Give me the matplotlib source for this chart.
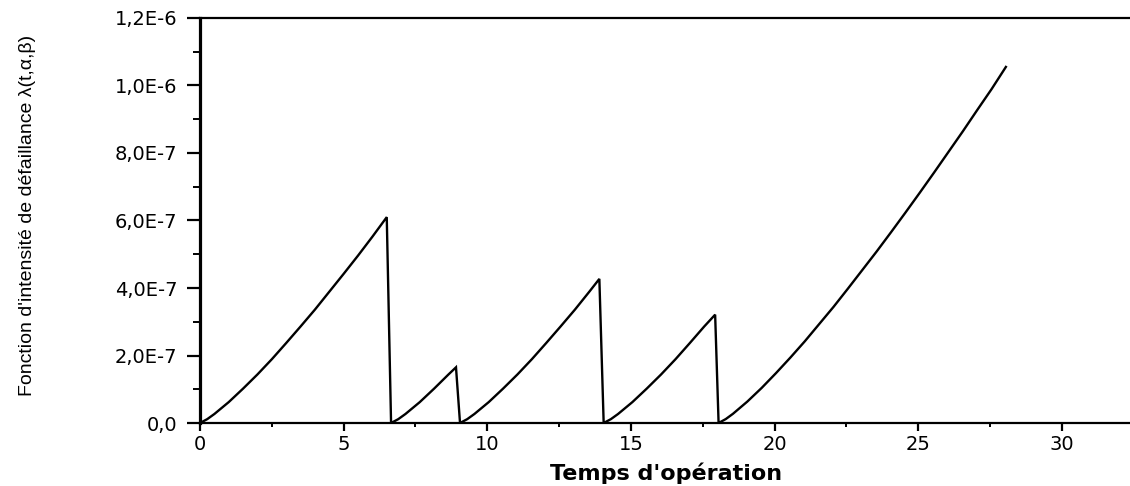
import matplotlib
matplotlib.use("Agg")
import matplotlib.pyplot as plt
from matplotlib.ticker import MultipleLocator

# failure intensity, one list per maintenance cycle (t, lambda)
t_cycle1 = [0.0, 0.25, 0.5, 1.0, 1.5, 2.0, 2.5, 3.0, 3.5, 4.0, 4.5, 5.0, 5.5, 6.0, 6.5]
l_cycle1 = [0.0, 1.14e-8, 2.67e-8, 6.2e-8, 1.02e-7, 1.44e-7, 1.89e-7, 2.37e-7,
            2.86e-7, 3.36e-7, 3.89e-7, 4.42e-7, 4.96e-7, 5.52e-7, 6.1e-7]

t_cycle2 = [6.65, 6.9, 7.15, 7.65, 8.15, 8.65, 8.91]
l_cycle2 = [0.0, 1.14e-8, 2.67e-8, 6.2e-8, 1.02e-7, 1.44e-7, 1.65e-7]

t_cycle3 = [9.05, 9.3, 9.55, 10.05, 10.55, 11.05, 11.55, 12.05, 12.55, 13.05, 13.55, 13.9]
l_cycle3 = [0.0, 1.14e-8, 2.67e-8, 6.2e-8, 1.02e-7, 1.44e-7, 1.89e-7, 2.37e-7,
            2.86e-7, 3.36e-7, 3.89e-7, 4.27e-7]

t_cycle4 = [14.05, 14.3, 14.55, 15.05, 15.55, 16.05, 16.55, 17.05, 17.55, 17.93]
l_cycle4 = [0.0, 1.14e-8, 2.67e-8, 6.2e-8, 1.02e-7, 1.44e-7, 1.89e-7, 2.37e-7,
            2.86e-7, 3.21e-7]

t_cycle5 = [18.05, 18.3, 18.55, 19.05, 19.55, 20.05, 20.55, 21.05, 21.55, 22.05,
            22.55, 23.05, 23.55, 24.05, 24.55, 25.05, 25.55, 26.05, 26.55, 27.05,
            27.55, 28.05]
l_cycle5 = [0.0, 1.17e-8, 2.73e-8, 6.35e-8, 1.04e-7, 1.48e-7, 1.94e-7, 2.42e-7,
            2.93e-7, 3.44e-7, 3.98e-7, 4.53e-7, 5.08e-7, 5.65e-7, 6.23e-7, 6.82e-7,
            7.42e-7, 8.03e-7, 8.64e-7, 9.27e-7, 9.89e-7, 1.055e-6]

y_ticks = [0.0, 2e-7, 4e-7, 6e-7, 8e-7, 1e-6, 1.2e-6]
y_tick_labels = ["0,0", "2,0E-7", "4,0E-7", "6,0E-7", "8,0E-7", "1,0E-6", "1,2E-6"]
x_ticks = [0, 5, 10, 15, 20, 25, 30]

# chain the cycles: each one ends with the drop back to zero
t_all = []
l_all = []
for tc, lc in [(t_cycle1, l_cycle1), (t_cycle2, l_cycle2), (t_cycle3, l_cycle3),
               (t_cycle4, l_cycle4), (t_cycle5, l_cycle5)]:
    t_all += tc
    l_all += lc

fig = plt.figure(figsize=(11.3, 4.86), dpi=100)
ax = fig.add_axes([0.177, 0.1296, 0.823, 0.8334])

ax.plot(t_all, l_all, color="black", lw=1.7, solid_joinstyle="miter")

ax.set_xlim(0, 32.37)
ax.set_ylim(0, 1.2e-6)

ax.set_xticks(x_ticks)
ax.xaxis.set_minor_locator(MultipleLocator(2.5))
ax.set_yticks(y_ticks)
ax.set_yticklabels(y_tick_labels)
ax.yaxis.set_minor_locator(MultipleLocator(1e-7))

for lab in ax.get_xticklabels() + ax.get_yticklabels():
    lab.set_family("DejaVu Sans")
    lab.set_fontsize(14)

ax.tick_params(axis="y", which="major", direction="out", length=9.5, width=1.6, pad=7)
ax.tick_params(axis="y", which="minor", direction="out", length=5, width=1.4)
ax.tick_params(axis="x", which="major", direction="out", length=5.5, width=1.6, pad=3)
ax.tick_params(axis="x", which="minor", direction="out", length=3, width=1.4)

ax.spines["left"].set_linewidth(2.3)
ax.spines["bottom"].set_linewidth(1.6)
ax.spines["top"].set_linewidth(1.6)
ax.spines["right"].set_visible(False)

ax.set_xlabel("Temps d'opération", family="DejaVu Sans", fontweight="bold",
              fontsize=16)
ax.xaxis.label.set_va("center")
ax.xaxis.set_label_coords(0.501, -0.125)

ax.set_ylabel("Fonction d'intensité de défaillance λ(t,α,β)",
              family="Liberation Sans", fontsize=14)
ax.yaxis.label.set_va("center")
ax.yaxis.set_label_coords(-0.186, 0.512)

fig.savefig("out.png", dpi=100)
